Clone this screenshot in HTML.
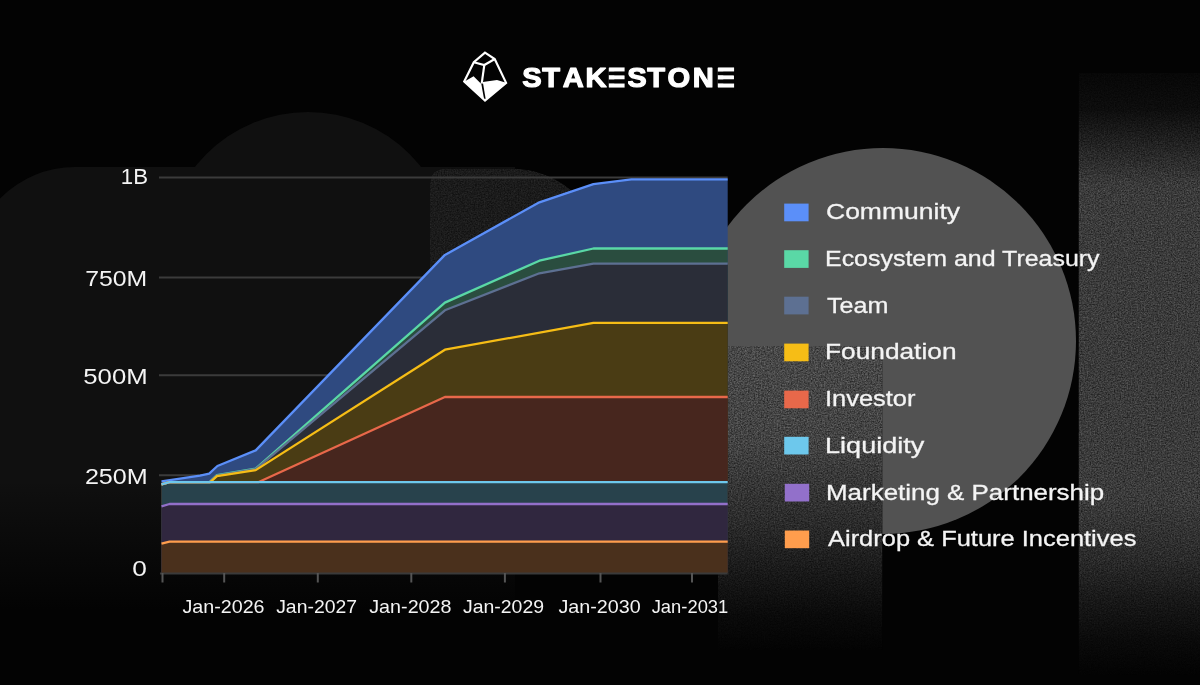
<!DOCTYPE html>
<html lang="en">
<head>
<meta charset="utf-8">
<title>StakeStone Token Release Schedule</title>
<style>
  html, body { margin: 0; padding: 0; background: #030303; }
  body { width: 1200px; height: 685px; overflow: hidden; position: relative; }
  svg { position: absolute; left: 0; top: 0; display: block; will-change: transform; }
  text { font-family: "Liberation Sans", sans-serif; fill: #f4f4f4; }
  .ylab { font-size: 21.4px; text-anchor: end; }
  .xlab { font-size: 17.8px; text-anchor: middle; }
  .leg  { font-size: 22.5px; stroke: #f4f4f4; stroke-width: 0.3px; }
  .logo { font-size: 28px; font-weight: bold; fill: #ffffff; stroke: #ffffff; stroke-width: 1.2px; stroke-linejoin: round; }
</style>
</head>
<body>
<svg width="1200" height="685" viewBox="0 0 1200 685">
  <defs>
    <filter id="grain" x="0" y="0" width="1" height="1" color-interpolation-filters="sRGB">
      <feTurbulence type="fractalNoise" baseFrequency="0.7" numOctaves="3" seed="11" result="t"/>
      <feColorMatrix in="t" type="matrix" values="1 0 0 0 0  1 0 0 0 0  1 0 0 0 0  0 0 0 0 1" result="n"/>
      <feComposite in="SourceGraphic" in2="n" operator="arithmetic" k1="1.4" k2="0.3" k3="0" k4="0" result="g"/>
      <feComposite in="g" in2="SourceGraphic" operator="in"/>
    </filter>
    <linearGradient id="fadeBottom" x1="0" y1="0" x2="0" y2="1">
      <stop offset="0" stop-color="#030303" stop-opacity="0"/>
      <stop offset="1" stop-color="#030303" stop-opacity="1"/>
    </linearGradient>
    <linearGradient id="rect1" x1="0" y1="346" x2="0" y2="650" gradientUnits="userSpaceOnUse">
      <stop offset="0.000" stop-color="#484848"/>
      <stop offset="0.309" stop-color="#434343"/>
      <stop offset="0.572" stop-color="#2c2c2c"/>
      <stop offset="0.770" stop-color="#161616"/>
      <stop offset="0.885" stop-color="#0a0a0a"/>
      <stop offset="1.000" stop-color="#030303"/>
    </linearGradient>
    <linearGradient id="rect2" x1="0" y1="73" x2="0" y2="675" gradientUnits="userSpaceOnUse">
      <stop offset="0.000" stop-color="#070707"/>
      <stop offset="0.060" stop-color="#0d0d0d"/>
      <stop offset="0.121" stop-color="#232323"/>
      <stop offset="0.186" stop-color="#3b3b3b"/>
      <stop offset="0.709" stop-color="#3b3b3b"/>
      <stop offset="0.809" stop-color="#2a2a2a"/>
      <stop offset="0.875" stop-color="#181818"/>
      <stop offset="0.942" stop-color="#0a0a0a"/>
      <stop offset="1.000" stop-color="#030303"/>
    </linearGradient>
  </defs>

  <!-- ===== background ===== -->
  <rect width="1200" height="685" fill="#030303"/>
  <g id="bg-left" fill="#101010">
    <circle cx="308" cy="256" r="144"/>
    <path d="M-30,700 L-30,272 A105,105 0 0 1 75,167 L515,167 L515,700 Z"/>
  </g>
  <path d="M430,420 L430,184 Q430,168.5 446,168.5 L512,168.5 A92,92 0 0 1 604,260 L604,420 Z" fill="#1b1b1b" filter="url(#grain)"/>
  <rect x="0" y="480" width="620" height="130" fill="url(#fadeBottom)"/>
  <rect x="0" y="610" width="620" height="75" fill="#030303"/>
  <g id="bg-right">
    <circle cx="883" cy="341" r="193" fill="#525252"/>
    <rect x="718" y="346" width="164.5" height="304" fill="url(#rect1)" filter="url(#grain)"/>
    <rect x="1078.5" y="73" width="121.5" height="602" fill="url(#rect2)" filter="url(#grain)"/>
  </g>

  <!-- ===== chart ===== -->
  <g id="grid" stroke="#3b3b3b" stroke-width="2">
    <line x1="159" y1="177.5" x2="727.7" y2="177.5"/>
    <line x1="159" y1="277.5" x2="727.7" y2="277.5"/>
    <line x1="159" y1="375.3" x2="727.7" y2="375.3"/>
    <line x1="159" y1="475.2" x2="727.7" y2="475.2"/>
  </g>
  <g id="areas">
    <!-- Community -->
    <path fill="#2f4a80" d="M161.5,573 L161.5,481.4 L200,475.7 L209.2,473.6 L217.4,466 L255.7,450.4 L444.9,254.9 L539.4,202.3 L593.4,184.2 L631.4,179.3 L727.7,179.3 L727.7,573 Z"/>
    <!-- Ecosystem and Treasury -->
    <path fill="#2a4d3f" d="M161.5,573 L161.5,484.3 L169.5,482.2 L209.5,482.2 L216.9,475.2 L255.7,468.6 L444.9,302.6 L539.4,260.7 L593.4,248.5 L727.7,248.5 L727.7,573 Z"/>
    <!-- Team -->
    <path fill="#2a2d38" d="M161.5,573 L161.5,484.3 L169.5,482.2 L209.5,482.2 L216.9,475.7 L255.7,469.2 L444.9,310.3 L539.4,273.3 L593.4,263.6 L727.7,263.6 L727.7,573 Z"/>
    <!-- Foundation -->
    <path fill="#4a3c14" d="M161.5,573 L161.5,484.3 L169.5,482.2 L210.2,482.2 L216.9,476.2 L255.7,470.1 L444.9,349.7 L593.4,322.9 L727.7,322.9 L727.7,573 Z"/>
    <!-- Investor -->
    <path fill="#47261e" d="M161.5,573 L161.5,484.3 L169.5,482.2 L258.2,482.2 L444.9,397 L727.7,397 L727.7,573 Z"/>
    <!-- Liquidity -->
    <path fill="#28424c" d="M161.5,573 L161.5,484.3 L169.5,482.2 L727.7,482.2 L727.7,573 Z"/>
    <!-- Marketing & Partnership -->
    <path fill="#30273f" d="M161.5,573 L161.5,506.4 L169.5,504 L727.7,504 L727.7,573 Z"/>
    <!-- Airdrop & Future Incentives -->
    <path fill="#4a301c" d="M161.5,573 L161.5,543.6 L169.5,541.7 L727.7,541.7 L727.7,573 Z"/>
  </g>
  <g id="lines" fill="none" stroke-width="2.3" stroke-linejoin="round">
    <path stroke="#5B8FF9" d="M161.5,481.4 L200,475.7 L209.2,473.6 L217.4,466 L255.7,450.4 L444.9,254.9 L539.4,202.3 L593.4,184.2 L631.4,179.3 L727.7,179.3"/>
    <path stroke="#5AD8A6" d="M161.5,484.3 L169.5,482.2 L209.5,482.2 L216.9,475.2 L255.7,468.6 L444.9,302.6 L539.4,260.7 L593.4,248.5 L727.7,248.5"/>
    <path stroke="#5D7092" d="M161.5,484.3 L169.5,482.2 L209.5,482.2 L216.9,475.7 L255.7,469.2 L444.9,310.3 L539.4,273.3 L593.4,263.6 L727.7,263.6"/>
    <path stroke="#F6BD16" d="M161.5,484.3 L169.5,482.2 L210.2,482.2 L216.9,476.2 L255.7,470.1 L444.9,349.7 L593.4,322.9 L727.7,322.9"/>
    <path stroke="#E8684A" d="M161.5,484.3 L169.5,482.2 L258.2,482.2 L444.9,397 L727.7,397"/>
    <path stroke="#6DC8EC" d="M161.5,484.3 L169.5,482.2 L727.7,482.2"/>
    <path stroke="#9270CA" d="M161.5,506.4 L169.5,504 L727.7,504"/>
    <path stroke="#FF9D4D" d="M161.5,543.6 L169.5,541.7 L727.7,541.7"/>
  </g>
  <g id="axis" stroke="#555555" stroke-width="2">
    <line x1="160" y1="573.5" x2="727.7" y2="573.5" stroke="#3a3a3a"/>
    <line x1="162.5" y1="573" x2="162.5" y2="582.5"/>
    <line x1="224.2" y1="573" x2="224.2" y2="582.5"/>
    <line x1="317.8" y1="573" x2="317.8" y2="582.5"/>
    <line x1="411.3" y1="573" x2="411.3" y2="582.5"/>
    <line x1="504.9" y1="573" x2="504.9" y2="582.5"/>
    <line x1="600.5" y1="573" x2="600.5" y2="582.5"/>
    <line x1="692" y1="573" x2="692" y2="582.5"/>
  </g>
  <!-- ===== axis labels ===== -->
  <g id="ylabels" class="ylab">
    <text x="148" y="183.9" textLength="27.2" lengthAdjust="spacingAndGlyphs">1B</text>
    <text x="147.3" y="286.4" textLength="62.1" lengthAdjust="spacingAndGlyphs">750M</text>
    <text x="147.7" y="384.2" textLength="64.4" lengthAdjust="spacingAndGlyphs">500M</text>
    <text x="147.7" y="484.4" textLength="62.8" lengthAdjust="spacingAndGlyphs">250M</text>
    <text x="146.8" y="575.6" textLength="14.6" lengthAdjust="spacingAndGlyphs">0</text>
  </g>
  <g id="xlabels" class="xlab">
    <text x="223.5" y="613.3" textLength="82.1" lengthAdjust="spacingAndGlyphs">Jan-2026</text>
    <text x="316.6" y="613.3" textLength="80.8" lengthAdjust="spacingAndGlyphs">Jan-2027</text>
    <text x="410.4" y="613.3" textLength="82.3" lengthAdjust="spacingAndGlyphs">Jan-2028</text>
    <text x="503.5" y="613.3" textLength="81.1" lengthAdjust="spacingAndGlyphs">Jan-2029</text>
    <text x="599.6" y="613.3" textLength="82.3" lengthAdjust="spacingAndGlyphs">Jan-2030</text>
    <text x="690" y="613.3" textLength="76.6" lengthAdjust="spacingAndGlyphs">Jan-2031</text>
  </g>
  <!-- ===== legend ===== -->
  <g id="legend">
    <rect x="784.2" y="203.6" width="24.4" height="17.7" fill="#5B8FF9"/>
    <rect x="784.2" y="250.2" width="24.4" height="17.7" fill="#5AD8A6"/>
    <rect x="784.2" y="296.7" width="24.4" height="17.7" fill="#5D7092"/>
    <rect x="784.2" y="343.6" width="24.4" height="17.7" fill="#F6BD16"/>
    <rect x="784.2" y="390.6" width="24.4" height="17.7" fill="#E8684A"/>
    <rect x="784.2" y="436.8" width="24.4" height="17.7" fill="#6DC8EC"/>
    <rect x="784.8" y="483.8" width="24.4" height="17.7" fill="#9270CA"/>
    <rect x="784.8" y="530.5" width="24.4" height="17.7" fill="#FF9D4D"/>
    <g class="leg">
      <text x="826" y="219.4" textLength="134" lengthAdjust="spacingAndGlyphs">Community</text>
      <text x="825" y="266" textLength="274.6" lengthAdjust="spacingAndGlyphs">Ecosystem and Treasury</text>
      <text x="827" y="312.5" textLength="61.4" lengthAdjust="spacingAndGlyphs">Team</text>
      <text x="825" y="359.4" textLength="131.5" lengthAdjust="spacingAndGlyphs">Foundation</text>
      <text x="825" y="406.4" textLength="90.5" lengthAdjust="spacingAndGlyphs">Investor</text>
      <text x="825" y="452.6" textLength="99.4" lengthAdjust="spacingAndGlyphs">Liquidity</text>
      <text x="826" y="499.6" textLength="278.2" lengthAdjust="spacingAndGlyphs">Marketing &amp; Partnership</text>
      <text x="828" y="546.3" textLength="308.4" lengthAdjust="spacingAndGlyphs">Airdrop &amp; Future Incentives</text>
    </g>
  </g>
  <!-- ===== logo ===== -->
  <g id="logo-icon" stroke="#ffffff" stroke-width="2.15" stroke-linejoin="miter" fill="none">
    <polygon points="485,52.7 494.7,59 506.1,82.9 485,100.5 464.2,81.6 473.8,62.2"/>
    <polyline points="473.8,62.2 484.3,65 494.8,59"/>
    <line x1="484.3" y1="65" x2="481.7" y2="83.7"/>
    <polygon fill="#ffffff" stroke="none" points="464,81.7 473.6,76.3 481.3,83.9 484.2,99.8"/>
    <polygon fill="#ffffff" stroke="none" points="482.8,82 497,79.9 506.2,82.8 485.8,99.8"/>
  </g>
  <text class="logo" transform="scale(1.04 1)" y="87.1" x="502.05 521.50 541.13 562.89 584.19 603.25 622.46 641.72 666.21 689.00">STAKESTONE</text>
  <g id="logo-e-gaps" fill="#030303">
    <rect x="608.4" y="71.58" width="19.5" height="3.61"/>
    <rect x="608.4" y="79.50" width="19.5" height="3.89"/>
    <rect x="624.6" y="64" width="3" height="27"/>
    <rect x="717.4" y="71.58" width="19.5" height="3.61"/>
    <rect x="717.4" y="79.50" width="19.5" height="3.89"/>
    <rect x="734.1" y="64" width="3" height="27"/>
  </g>
</svg>
</body>
</html>
